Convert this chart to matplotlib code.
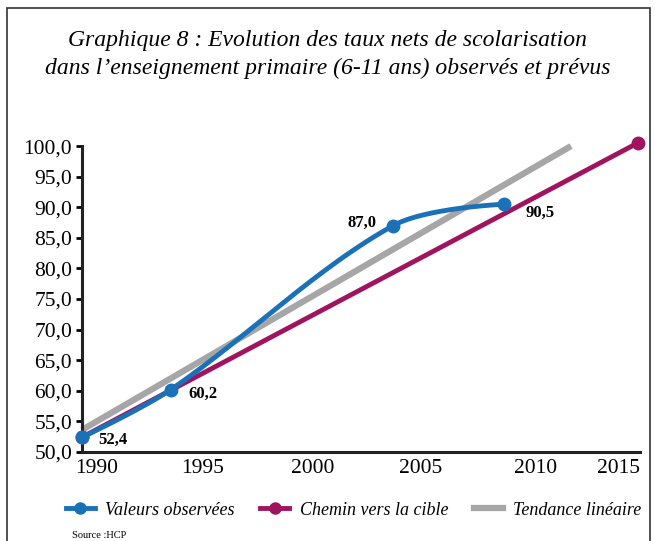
import numpy as np
import matplotlib.pyplot as plt
from matplotlib.patches import Rectangle
from matplotlib.lines import Line2D
from matplotlib.transforms import ScaledTranslation

plt.rcParams['font.family'] = 'Liberation Serif'

# Data
obs_years = [1990, 1994, 2004, 2009]
obs_values = [52.4, 60.2, 87.0, 90.5]
obs_labels = ['52,4', '60,2', '87,0', '90,5']
target_years = [1990, 2015]
target_values = [52.4, 100.5]
trend_years = [1990, 2012]
trend_values = [53.6, 100.0]
year_ticks = [1990, 1995, 2000, 2005, 2010, 2015]
value_ticks = [50, 55, 60, 65, 70, 75, 80, 85, 90, 95, 100]

blue = '#1a71b8'
purple = '#a0145f'
grey = '#a6a6a6'


def smooth(xs, ys, sx=22.2, sy=6.12, n=50):
    # Bezier smoothing in screen-like units (Excel style "smoothed line")
    P = np.column_stack([np.asarray(xs, float) * sx, np.asarray(ys, float) * sy])
    m = len(P)
    L = np.linalg.norm(np.diff(P, axis=0), axis=1)
    T = np.zeros_like(P)
    for i in range(1, m - 1):
        T[i] = P[i + 1] - P[i - 1]
    t = np.linspace(0, 1, n)[:, None]
    pts = []
    for i in range(m - 1):
        if i == 0:
            c1 = P[i]
        else:
            c1 = P[i] + T[i] * L[i] / (L[i - 1] + L[i]) / 3
        if i == m - 2:
            c2 = P[i + 1]
        else:
            c2 = P[i + 1] - T[i + 1] * L[i] / (L[i] + L[i + 1]) / 3
        seg = ((1 - t) ** 3 * P[i] + 3 * (1 - t) ** 2 * t * c1
               + 3 * (1 - t) * t ** 2 * c2 + t ** 3 * P[i + 1])
        pts.append(seg)
    pts = np.vstack(pts)
    return pts[:, 0] / sx, pts[:, 1] / sy


fig = plt.figure(figsize=(6.55, 5.41), dpi=100)
ax = fig.add_axes([0.125, 0.1645, 0.852, 0.5655])

# outer frame
fig.patches.append(Rectangle((7 / 655, -0.1), 643 / 655, 1.1 - 8 / 541,
                             transform=fig.transFigure, fill=False,
                             edgecolor='#333333', linewidth=1.2))

fig.text(0.5, 0.926, 'Graphique 8 : Evolution des taux nets de scolarisation',
         ha='center', va='center', fontsize=17, style='italic')
fig.text(0.5, 0.873, 'dans l\u2019enseignement primaire (6-11 ans) observés et prévus',
         ha='center', va='center', fontsize=17, style='italic')

ax.plot(trend_years, trend_values, color=grey, linewidth=4.5,
        solid_capstyle='butt', clip_on=False, zorder=2)
ax.plot(target_years, target_values, color=purple, linewidth=3.5,
        marker='o', markersize=9, clip_on=False, zorder=3)
cx, cy = smooth(obs_years, obs_values)
ax.plot(cx, cy, color=blue, linewidth=3.5, clip_on=False, zorder=4)
ax.plot(obs_years, obs_values, linestyle='none', color=blue,
        marker='o', markersize=9, clip_on=False, zorder=4)

offsets = [(11.5, -2), (13, -3), (-12, 2), (15, -6)]
aligns = ['left', 'left', 'right', 'left']
for x, y, lab, off, ha in zip(obs_years, obs_values, obs_labels, offsets, aligns):
    ax.annotate(lab, (x, y), xytext=off, textcoords='offset points',
                ha=ha, va='center', fontsize=12, fontweight='bold')

ax.set_xlim(1990, 2015.1)
ax.set_ylim(50, 100)
ax.set_yticks(value_ticks)
ax.set_yticklabels([f'{v:.1f}'.replace('.', ',') for v in value_ticks])
ax.set_xticks(year_ticks)
ax.tick_params(axis='y', labelsize=15.5, length=4, width=2, direction='out', pad=3)
ax.tick_params(axis='x', labelsize=15.5, length=0, pad=5)
# labels sit a bit off their ticks in the original
shift_px = [15, 10, 8, 5, 9, -19]
for lab, dx in zip(ax.get_xticklabels(), shift_px):
    lab.set_transform(lab.get_transform() + ScaledTranslation(dx / 100, 0, fig.dpi_scale_trans))
for side in ['top', 'right']:
    ax.spines[side].set_visible(False)
for side in ['left', 'bottom']:
    ax.spines[side].set_linewidth(2.2)
    ax.spines[side].set_color('#222222')

handles = [
    Line2D([], [], color=blue, linewidth=3.5, marker='o', markersize=8),
    Line2D([], [], color=purple, linewidth=3.5, marker='o', markersize=8),
    Line2D([], [], color=grey, linewidth=4.5),
]
fig.legend(handles, ['Valeurs observées', 'Chemin vers la cible', 'Tendance linéaire'],
           loc='center', bbox_to_anchor=(0.54, 0.057), ncol=3, frameon=False,
           prop={'size': 13, 'style': 'italic'}, handlelength=1.6,
           columnspacing=1.4, handletextpad=0.6)
fig.text(0.11, 0.011, 'Source :HCP', fontsize=7.5, ha='left', va='center')

fig.savefig('out.png', dpi=100)
